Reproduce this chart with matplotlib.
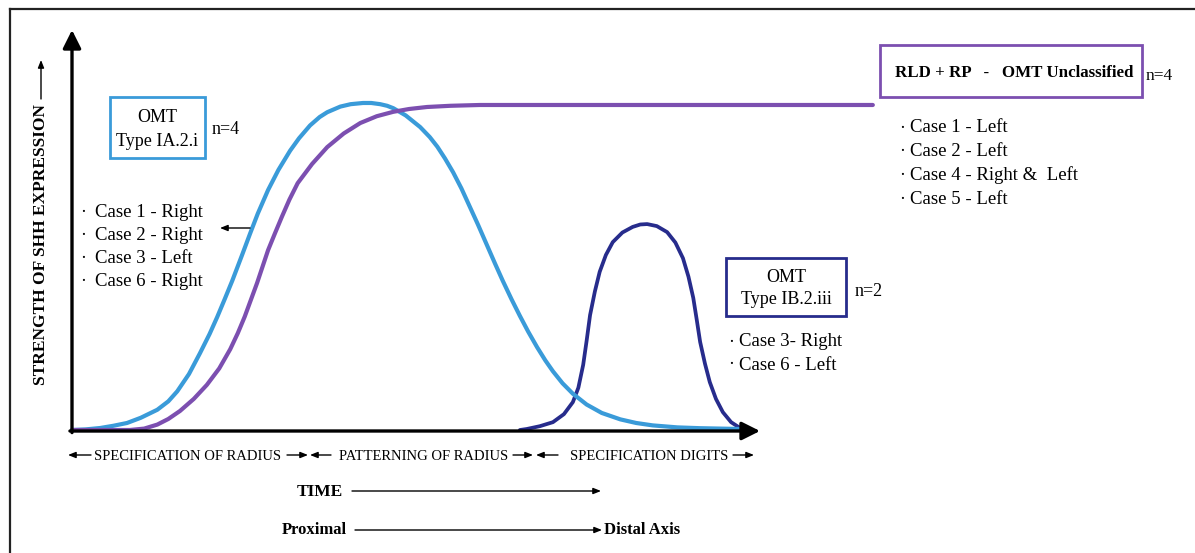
import matplotlib.pyplot as plt
from matplotlib.patches import Rectangle
from matplotlib.lines import Line2D

W, H = 1195, 553

# time (0-100 along the x axis) vs strength of SHH expression (0-100)
blue_t = [0.0, 2.0, 4.1, 6.0, 8.0, 10.0, 12.4, 14.0, 15.3, 17.0, 18.6, 20.0, 21.1, 22.2, 23.3,
          24.7, 25.9, 27.0, 28.5, 30.0, 31.7, 33.0, 34.6, 36.0, 37.1, 39.0, 40.5, 42.3, 43.5,
          44.8, 45.8, 46.7, 48.5, 50.6, 52.0, 53.1, 54.2, 55.4, 56.6, 57.8, 59.0, 60.3, 61.5,
          62.6, 63.9, 65.1, 66.3, 67.6, 68.8, 69.9, 71.3, 72.8, 74.8, 77.0, 79.7, 82.0, 84.4,
          88.0, 91.3, 97.1]
blue_y = [0.25, 0.4, 0.75, 1.3, 2.0, 3.3, 5.3, 7.4, 9.9, 14.2, 19.4, 24.2, 28.4, 32.9, 37.5,
          43.8, 49.3, 54.2, 60.1, 65.1, 69.9, 73.0, 76.2, 78.3, 79.5, 80.9, 81.5, 81.8, 81.8,
          81.5, 81.1, 80.5, 78.7, 75.8, 73.3, 70.9, 68.0, 64.5, 60.5, 56.0, 51.5, 46.4, 41.7,
          37.5, 32.8, 28.7, 24.8, 20.9, 17.6, 14.9, 11.9, 9.3, 6.6, 4.5, 2.9, 2.0, 1.4,
          0.9, 0.7, 0.5]

purple_t = [0.0, 8.4, 10.5, 12.4, 14.0, 15.7, 17.7, 19.6, 21.4, 23.0, 24.1, 25.1, 26.0, 26.9,
            27.7, 28.5, 29.5, 30.5, 31.6, 32.8, 34.9, 37.1, 39.5, 41.9, 44.3, 46.7, 49.0,
            51.6, 55.0, 59.3, 80.0, 100.0, 116.4]
purple_y = [0.25, 0.25, 0.6, 1.6, 3.0, 5.0, 8.0, 11.5, 15.6, 20.4, 24.4, 28.5, 32.7, 36.9,
            41.0, 45.1, 49.3, 53.4, 57.7, 61.8, 66.6, 70.8, 74.2, 76.8, 78.5, 79.6, 80.3,
            80.8, 81.1, 81.3, 81.3, 81.3, 81.3]

navy_t = [65.1, 66.1, 68.0, 69.9, 71.5, 72.8, 73.6, 74.3, 74.8, 75.3, 76.0, 76.7, 77.6, 78.6,
          80.0, 81.5, 82.6, 83.6, 85.0, 86.5, 87.7, 88.8, 89.6, 90.3, 90.8, 91.3, 92.0, 92.7,
          93.6, 94.6, 95.8, 97.1]
navy_y = [0.25, 0.5, 1.2, 2.2, 4.2, 7.2, 10.8, 16.5, 22.5, 28.9, 34.8, 39.7, 43.9, 47.1,
          49.5, 50.9, 51.5, 51.6, 51.1, 49.6, 47.0, 43.1, 38.5, 33.2, 27.8, 22.2, 16.8, 12.2,
          8.0, 4.7, 2.2, 0.75]

stage_labels = ['SPECIFICATION OF RADIUS', 'PATTERNING OF RADIUS', 'SPECIFICATION DIGITS']
ia_cases = ['Case 1 - Right', 'Case 2 - Right', 'Case 3 - Left', 'Case 6 - Right']
ib_cases = ['Case 3- Right', 'Case 6 - Left']
rld_cases = ['Case 1 - Left', 'Case 2 - Left', 'Case 4 - Right &  Left', 'Case 5 - Left']

c_blue = '#3a9bd9'
c_purple = '#7c4fb0'
c_navy = '#272c8c'

plt.rcParams['font.family'] = ['Liberation Serif', 'DejaVu Serif']

fig = plt.figure(figsize=(W / 100, H / 100), dpi=100)
ax = fig.add_axes([0, 0, 1, 1])
# axis origin sits at pixel (72, 431), 100 units = 688 px across and 401 px up
ax.set_xlim(-72 / 6.88, (W - 72) / 6.88)
ax.set_ylim(-(H - 431) / 4.01, 431 / 4.01)
ax.axis('off')


def txt(x, y, s, **kw):
    kw.setdefault('va', 'center')
    fig.text(x / W, 1 - y / H, s, **kw)


def arrow(x0, y0, x1, y1, lw=1.0, ms=9):
    ax.annotate('', xy=(x1, H - y1), xycoords='figure pixels',
                xytext=(x0, H - y0), textcoords='figure pixels',
                arrowprops=dict(arrowstyle='-|>,head_length=0.5,head_width=0.2',
                                lw=lw, color='black', mutation_scale=ms,
                                shrinkA=0, shrinkB=0))


def box(x0, y0, x1, y1, color):
    fig.add_artist(Rectangle((x0 / W, 1 - y1 / H), (x1 - x0) / W, (y1 - y0) / H,
                             transform=fig.transFigure, fill=False, ec=color, lw=2))


# outer frame (top and left edge only)
fig.add_artist(Line2D([10 / W, 1], [1 - 9 / H, 1 - 9 / H], transform=fig.transFigure,
                      color='#222222', lw=1.6))
fig.add_artist(Line2D([10 / W, 10 / W], [1 - 9 / H, 0], transform=fig.transFigure,
                      color='#222222', lw=1.6))

# curves
ax.plot(navy_t, navy_y, color=c_navy, lw=2.7, solid_capstyle='round', solid_joinstyle='round')
ax.plot(blue_t, blue_y, color=c_blue, lw=3.0, solid_capstyle='round', solid_joinstyle='round')
ax.plot(purple_t, purple_y, color=c_purple, lw=3.0, solid_capstyle='round',
        solid_joinstyle='round')

# axes
head = dict(arrowstyle='-|>,head_length=0.5,head_width=0.25', lw=2.4, color='black',
            mutation_scale=22, shrinkA=0, shrinkB=0)
ax.annotate('', xy=(0, 100), xytext=(0, -0.4), arrowprops=head)
ax.annotate('', xy=(100, 0), xytext=(-0.3, 0), arrowprops=head)

# y label
txt(41, 245, 'STRENGTH OF SHH EXPRESSION', rotation=90, ha='center', fontsize=12.5,
    weight='bold')
arrow(41, 99, 41, 60)

# stage labels under the time axis
txt(188, 456, stage_labels[0], ha='center', fontsize=10.5)
txt(424, 456, stage_labels[1], ha='center', fontsize=10.5)
txt(649, 456, stage_labels[2], ha='center', fontsize=10.5)
arrow(91, 455, 68, 455)
arrow(287, 455, 308, 455)
arrow(331, 455, 310, 455)
arrow(513, 455, 533, 455)
arrow(558, 455, 536, 455)
arrow(733, 455, 754, 455)

txt(320, 492, 'TIME', ha='center', fontsize=12.5, weight='bold')
arrow(352, 491, 601, 491)
txt(347, 530, 'Proximal', ha='right', fontsize=12, weight='bold')
arrow(355, 530, 602, 530)
txt(604, 530, 'Distal Axis', ha='left', fontsize=12, weight='bold')

# OMT Type IA.2.i
box(110, 97, 205, 158, c_blue)
txt(157, 118, 'OMT', ha='center', fontsize=13)
txt(157, 142, 'Type IA.2.i', ha='center', fontsize=13)
txt(212, 129, 'n=4', ha='left', fontsize=13)
for i, s in enumerate(ia_cases):
    y = 213 + i * 22.7
    txt(83, y, '\u00b7', ha='center', fontsize=13)
    txt(95, y, s, ha='left', fontsize=13.5)
arrow(250, 228, 220, 228)

# RLD + RP - OMT Unclassified
box(880, 45, 1142, 97, c_purple)
txt(895, 73, 'RLD + RP   -   OMT Unclassified', ha='left', fontsize=12.2, weight='bold')
txt(1146, 76, 'n=4', ha='left', fontsize=12.5)
for i, s in enumerate(rld_cases):
    y = 128 + i * 23.7
    txt(902, y, '\u00b7', ha='center', fontsize=13)
    txt(910, y, s, ha='left', fontsize=13.5)

# OMT Type IB.2.iii
box(726, 258, 846, 316, c_navy)
txt(786, 277, 'OMT', ha='center', fontsize=13)
txt(786, 300, 'Type IB.2.iii', ha='center', fontsize=13)
txt(855, 292, 'n=2', ha='left', fontsize=13)
for i, s in enumerate(ib_cases):
    y = 342 + i * 23
    txt(731, y, '\u00b7', ha='center', fontsize=13)
    txt(739, y, s, ha='left', fontsize=13.5)

fig.savefig('out.png', dpi=100, facecolor='white')
